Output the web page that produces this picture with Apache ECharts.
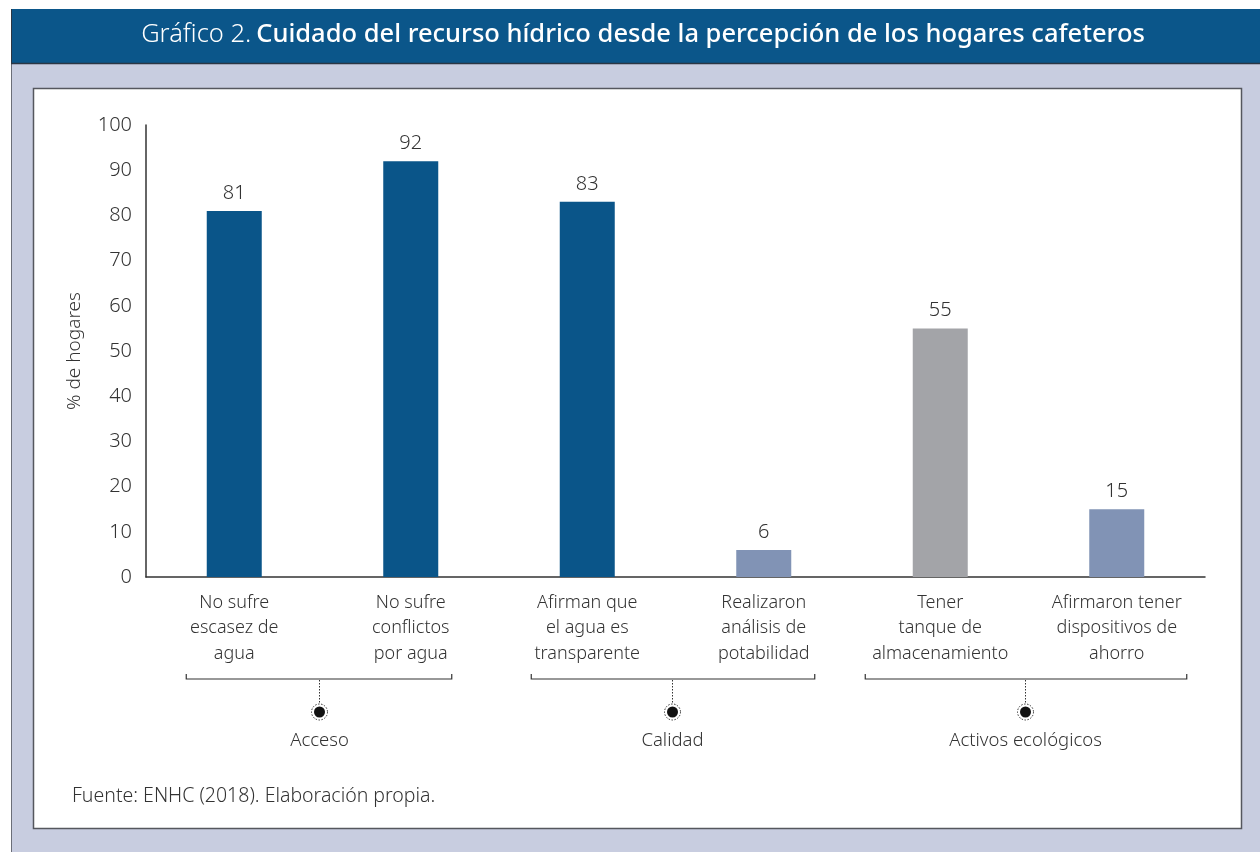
<!DOCTYPE html>
<html>
<head>
<meta charset="utf-8">
<script src="https://cdn.jsdelivr.net/npm/echarts@6/dist/echarts.min.js"></script>
<style>
  html, body { margin: 0; padding: 0; background: #fff; }
  #chart { width: 1260px; height: 852px; }
</style>
</head>
<body>
<div id="chart"></div>
<script>
// ---------------- data ----------------
let categories = [
    "No sufre\nescasez de\nagua",
    "No sufre\nconflictos\npor agua",
    "Afirman que\nel agua es\ntransparente",
    "Realizaron\nanálisis de\npotabilidad",
    "Tener\ntanque de\nalmacenamiento",
    "Afirmaron tener\ndispositivos de\nahorro"
];
let values = [81, 92, 83, 6, 55, 15];
let barColors = ["#0a5589", "#0a5589", "#0a5589", "#8193b5", "#a3a4a8", "#8193b5"];
let groupNames = ["Acceso", "Calidad", "Activos ecológicos"];
let groupFirst = [0, 2, 4];
let groupLast = [1, 3, 5];
// extra reach of each bracket past the category centres (left, right)
let groupPadLeft = [48, 56, 75];
let groupPadRight = [41, 51, 70];

let font = "'Noto Sans', 'Open Sans', sans-serif";
let textColor = "#333";

let chart = echarts.init(document.getElementById("chart"));

// page frame: header band, grey panel, white card
let frame = [
    {type: "rect", z: -10, shape: {x: 11, y: 64, width: 1249, height: 788}, style: {fill: "#c8cde0"}},
    {type: "line", z: -9, shape: {x1: 11.5, y1: 64, x2: 11.5, y2: 852}, style: {stroke: "#6b6e78", lineWidth: 1}},
    {type: "rect", z: -10, shape: {x: 11, y: 9, width: 1249, height: 55}, style: {fill: "#0b568a"}},
    {type: "line", z: -9, shape: {x1: 11, y1: 63.5, x2: 1260, y2: 63.5}, style: {stroke: "#2b3644", lineWidth: 1.5}},
    {type: "line", z: -9, shape: {x1: 11.5, y1: 9, x2: 11.5, y2: 64}, style: {stroke: "#2b3644", lineWidth: 1}},
    {type: "rect", z: -8, shape: {x: 33.5, y: 88.5, width: 1208, height: 740}, style: {fill: "#fff", stroke: "#55575e", lineWidth: 1.5}},
    {type: "text", z: 5, x: 72, y: 796, style: {text: "Fuente: ENHC (2018). Elaboración propia.", font: "300 19.5px " + font, fill: textColor, verticalAlign: "middle"}}
];

let option = {
    backgroundColor: "#fff",
    animation: false,
    title: {
        text: "{a|Gráfico 2.} {b|Cuidado del recurso hídrico desde la percepción de los hogares cafeteros}",
        left: 638,
        textAlign: "center",
        top: 17,
        textStyle: {
            rich: {
                a: {fontFamily: font, fontSize: 25.5, fontWeight: 300, color: "#fff"},
                b: {fontFamily: font, fontSize: 25.5, fontWeight: 500, color: "#fff"}
            }
        }
    },
    grid: {left: 146, right: 55, top: 125, bottom: 275, containLabel: false},
    xAxis: {
        type: "category",
        data: categories,
        axisLine: {lineStyle: {color: "#333", width: 1.5}},
        axisTick: {show: false},
        axisLabel: {
            interval: 0,
            margin: 13,
            fontFamily: font,
            fontWeight: 300,
            fontSize: 18,
            lineHeight: 25.5,
            color: textColor
        }
    },
    yAxis: {
        type: "value",
        min: 0,
        max: 100,
        interval: 10,
        name: "% de hogares",
        nameLocation: "middle",
        nameGap: 62,
        nameTextStyle: {fontFamily: font, fontWeight: 300, fontSize: 19, color: textColor},
        axisLine: {show: true, lineStyle: {color: "#333", width: 1.5}},
        axisTick: {show: false},
        splitLine: {show: false},
        axisLabel: {margin: 14, fontFamily: font, fontWeight: 300, fontSize: 20, color: textColor}
    },
    series: [{
        type: "bar",
        barWidth: 55,
        data: values.map(function (v, i) {
            return {value: v, itemStyle: {color: barColors[i]}};
        }),
        label: {
            show: true,
            position: "top",
            distance: 8,
            fontFamily: font,
            fontWeight: 300,
            fontSize: 20,
            color: textColor
        }
    }],
    graphic: frame
};
chart.setOption(option);

// group brackets under the category labels, placed from the axis scale
let brackets = [];
let yLine = 679;
for (let g = 0; g < groupNames.length; g++) {
    let c0 = chart.convertToPixel({xAxisIndex: 0}, groupFirst[g]);
    let c1 = chart.convertToPixel({xAxisIndex: 0}, groupLast[g]);
    let x0 = c0 - groupPadLeft[g];
    let x1 = c1 + groupPadRight[g];
    let xc = (c0 + c1) / 2 - 3;
    brackets.push({
        type: "polyline",
        shape: {points: [[x0, yLine - 5], [x0, yLine], [x1, yLine], [x1, yLine - 5]]},
        style: {stroke: "#333", lineWidth: 1.2, fill: null}
    });
    brackets.push({
        type: "line",
        shape: {x1: xc, y1: yLine + 1, x2: xc, y2: 703},
        style: {stroke: "#333", lineWidth: 1, lineDash: [1.5, 1.5]}
    });
    brackets.push({
        type: "circle",
        shape: {cx: xc, cy: 712, r: 8},
        style: {stroke: "#333", lineWidth: 1, lineDash: [1.5, 1.5], fill: "#fff"}
    });
    brackets.push({
        type: "circle",
        shape: {cx: xc, cy: 712, r: 5.5},
        style: {fill: "#111"}
    });
    brackets.push({
        type: "text",
        x: xc,
        y: 741,
        style: {
            text: groupNames[g],
            font: "300 18.5px " + font,
            fill: textColor,
            align: "center",
            verticalAlign: "middle"
        }
    });
}
chart.setOption({graphic: frame.concat(brackets)});
</script>
</body>
</html>
